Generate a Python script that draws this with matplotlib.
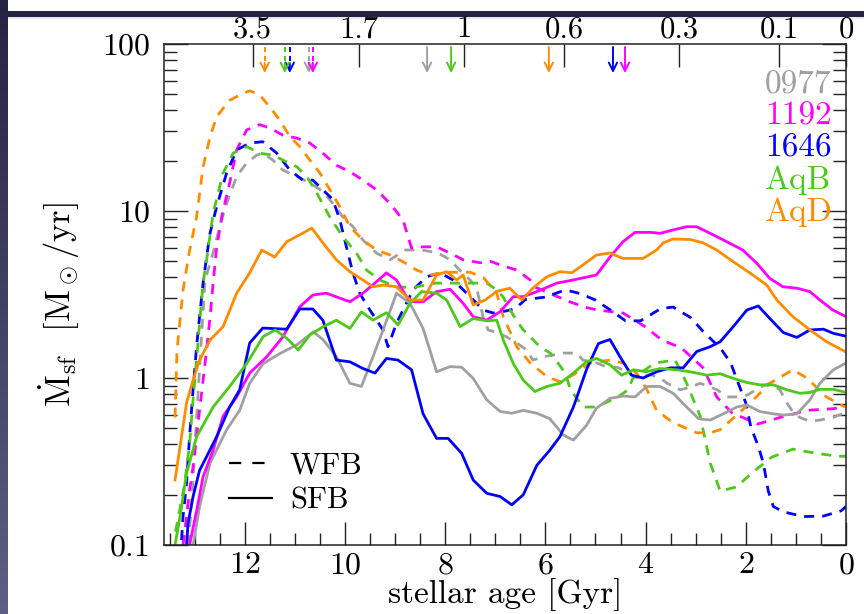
import matplotlib
matplotlib.use('Agg')
import matplotlib.pyplot as plt
import numpy as np
from matplotlib.lines import Line2D
from matplotlib.patches import Rectangle
from matplotlib.colors import LinearSegmentedColormap
from matplotlib.ticker import MultipleLocator, LogLocator, NullFormatter
import matplotlib.transforms as mtransforms

plt.rcParams['font.family'] = 'serif'
plt.rcParams['font.serif'] = ['cmr10', 'DejaVu Serif']
plt.rcParams['mathtext.fontset'] = 'cm'
plt.rcParams['axes.unicode_minus'] = False
plt.rcParams['axes.formatter.use_mathtext'] = True

# ── data (stellar age [Gyr], SFR [Msun/yr]) ──
names = ['0977', '1192', '1646', 'AqB', 'AqD']
colors = ['#a0a0a0', '#ff00ff', '#0000ff', '#4ec819', '#ff8c00']

# WFB (dashed)
age_0977_wfb = [13.12, 13.05, 12.98, 12.92, 12.86, 12.79, 12.63, 12.50, 12.36, 12.16, 11.96, 11.76, 11.64, 11.44,
                11.24, 10.96, 10.70, 10.44, 10.24, 10.04, 9.84, 9.64, 9.37, 9.10, 8.80, 8.57, 8.40, 8.14, 7.90,
                7.70, 7.50, 7.37, 7.24, 7.14, 6.97, 6.77, 6.57, 6.37, 6.25, 6.05, 5.85, 5.65, 5.37, 5.25, 4.97,
                4.77, 4.57, 4.45, 4.17, 3.91, 3.71, 3.57, 3.31, 3.11, 2.91, 2.57, 2.37, 2.11, 1.97, 1.72, 1.52,
                1.32, 1.18, 1.05, 0.92, 0.72, 0.52, 0.26, 0.02]
sfr_0977_wfb = [0.10, 0.20, 0.45, 0.9, 1.8, 3.86, 5.6, 8.05, 11.1, 16.1, 19.4, 21.6, 22.2, 20.2,
                17.6, 16.1, 14.7, 13.1, 11.1, 9.2, 8.05, 6.7, 5.6, 5.1, 5.84, 5.84, 5.8, 5.6, 5.1,
                4.4, 3.86, 3.45, 2.3, 1.94, 1.88, 1.76, 1.62, 1.47, 1.28, 1.34, 1.37, 1.41, 1.41, 1.28, 1.23,
                1.16, 1.16, 1.12, 1.0, 1.05, 1.0, 0.93, 0.85, 0.88, 0.93, 0.85, 0.77, 0.77, 0.79, 0.88, 0.93,
                0.85, 0.71, 0.62, 0.58, 0.55, 0.56, 0.58, 0.62]

age_1192_wfb = [13.23, 13.16, 13.10, 13.03, 12.96, 12.90, 12.83, 12.76, 12.69, 12.63, 12.56, 12.45, 12.30, 12.16,
                11.96, 11.70, 11.50, 11.24, 10.96, 10.70, 10.44, 10.17, 9.90, 9.64, 9.37, 9.10, 8.84, 8.67,
                8.44, 8.17, 7.90, 7.64, 7.30, 7.10, 6.90, 6.57, 6.30, 6.20, 5.90, 5.50, 5.20, 4.95, 4.45,
                4.01, 3.68, 3.28, 2.85, 2.58, 2.28, 1.76, 1.32, 0.78, 0.26, 0.02]
sfr_1192_wfb = [0.10, 0.148, 0.213, 0.294, 0.445, 0.643, 0.97, 1.47, 2.33, 3.7, 6.0, 9.5, 14.7, 23.2,
                30.6, 32.9, 31.4, 28.5, 27.3, 25.5, 22.2, 18.8, 17.2, 15.3, 13.4, 11.1, 8.83, 6.0,
                6.1, 6.1, 5.6, 5.1, 4.9, 5.0, 4.75, 4.43, 3.86, 3.5, 3.2, 2.85, 2.65, 2.55, 2.45,
                2.03, 1.69, 1.51, 1.15, 0.77, 0.62, 0.53, 0.58, 0.64, 0.655, 0.67]

age_1646_wfb = [13.26, 13.23, 13.16, 13.10, 13.03, 12.96, 12.90, 12.83, 12.76, 12.69, 12.56, 12.36, 12.16, 11.90,
                11.64, 11.36, 11.10, 10.84, 10.64, 10.44, 10.24, 10.10, 9.97, 9.84, 9.70, 9.50, 9.24, 9.14,
                8.97, 8.64, 8.37, 8.10, 7.84, 7.57, 7.24, 7.04, 6.84, 6.60, 6.40, 6.00, 5.60, 5.30, 5.00,
                4.70, 4.40, 4.10, 3.70, 3.45, 3.10, 2.85, 2.50, 2.30, 2.15, 2.00, 1.90, 1.75, 1.65, 1.55,
                1.45, 1.25, 0.85, 0.45, 0.10, 0.00]
sfr_1646_wfb = [0.107, 0.148, 0.235, 0.445, 0.85, 1.54, 2.33, 3.7, 5.3, 7.4, 10.6, 16.9, 23.2, 25.5,
                26.0, 22.2, 17.6, 15.3, 15.3, 13.4, 11.7, 8.83, 6.1, 4.26, 3.2, 2.55, 1.94, 1.54,
                2.13, 3.37, 4.04, 4.26, 3.86, 3.22, 2.55, 2.45, 2.5, 2.6, 2.95, 3.05, 3.37, 3.2, 2.93,
                2.55, 2.2, 2.2, 2.6, 2.66, 2.3, 1.9, 1.5, 1.23, 0.93, 0.71, 0.51, 0.39, 0.31, 0.21,
                0.17, 0.158, 0.148, 0.149, 0.16, 0.17]

age_aqb_wfb = [13.38, 13.30, 13.20, 13.10, 13.03, 12.96, 12.90, 12.83, 12.76, 12.63, 12.43, 12.23, 11.96, 11.70,
               11.44, 11.24, 10.96, 10.76, 10.56, 10.30, 10.04, 9.77, 9.57, 9.30, 8.97, 8.60, 8.20, 7.90,
               7.50, 7.17, 6.97, 6.84, 6.70, 6.57, 6.44, 6.30, 6.10, 5.90, 5.75, 5.60, 5.50, 5.35, 5.25,
               5.00, 4.80, 4.55, 4.35, 4.25, 3.81, 3.41, 3.18, 2.91, 2.71, 2.51, 2.18, 1.88, 1.48, 1.06,
               0.62, 0.16, 0.00]
sfr_aqb_wfb = [0.12, 0.16, 0.23, 0.4, 0.74, 1.28, 2.13, 3.7, 5.1, 9.7, 16.9, 22.2, 24.3, 22.2,
               21.6, 20.2, 18.4, 16.1, 12.8, 9.2, 7.0, 5.6, 4.43, 3.86, 3.5, 3.5, 3.7, 3.7,
               3.7, 3.7, 3.37, 3.05, 2.55, 2.2, 1.94, 1.76, 1.53, 1.41, 1.23, 1.07, 0.85, 0.74, 0.67,
               0.67, 0.71, 0.77, 0.85, 1.0, 1.23, 1.28, 0.93, 0.59, 0.31, 0.21, 0.223, 0.27, 0.336, 0.375,
               0.355, 0.34, 0.34]

age_aqd_wfb = [13.39, 13.35, 13.23, 13.10, 12.96, 12.83, 12.69, 12.56, 12.30, 12.10, 11.90, 11.70, 11.50, 11.30,
               11.10, 10.90, 10.70, 10.50, 10.30, 10.10, 9.90, 9.64, 9.37, 9.10, 8.84, 8.57, 8.30, 8.00,
               7.50, 7.24, 6.97, 6.84, 6.57, 6.30, 5.97, 5.71, 5.45, 5.11, 4.71, 4.45, 4.18, 3.97, 3.78,
               3.45, 2.98, 2.71, 2.51, 2.18, 1.85, 1.52, 1.06, 0.78, 0.39, 0.02]
sfr_aqd_wfb = [0.58, 1.47, 3.37, 5.8, 9.2, 18.4, 27.9, 36.7, 46.0, 49.5, 52.5, 49.5, 42.0, 35.0,
               27.9, 24.3, 20.2, 16.9, 13.4, 10.6, 8.05, 6.7, 5.84, 5.45, 4.97, 4.43, 4.14, 4.3,
               4.3, 4.0, 3.22, 2.33, 1.54, 1.23, 1.02, 0.95, 1.04, 1.23, 1.28, 1.23, 1.07, 0.85, 0.64,
               0.54, 0.47, 0.47, 0.49, 0.60, 0.74, 0.93, 1.12, 1.0, 0.77, 0.67]

# SFB (solid)
age_0977_sfb = [13.03, 12.90, 12.69, 12.36, 12.10, 11.90, 11.63, 11.30, 10.96, 10.63, 10.43, 10.17, 9.90, 9.67,
                9.44, 9.20, 8.97, 8.70, 8.44, 8.17, 7.90, 7.67, 7.44, 7.17, 6.90, 6.67, 6.44, 6.17, 5.91,
                5.64, 5.44, 5.18, 4.98, 4.71, 4.45, 4.21, 3.98, 3.71, 3.45, 3.18, 2.94, 2.71, 2.45, 2.18,
                1.98, 1.72, 1.45, 1.25, 0.98, 0.72, 0.52, 0.25, 0.00]
sfr_0977_sfb = [0.10, 0.17, 0.31, 0.49, 0.64, 0.93, 1.22, 1.40, 1.58, 1.89, 1.69, 1.34, 0.93, 0.89,
                1.34, 2.08, 3.22, 2.8, 1.98, 1.09, 1.17, 1.16, 0.995, 0.74, 0.63, 0.615, 0.64, 0.615, 0.57,
                0.455, 0.425, 0.52, 0.66, 0.755, 0.78, 0.77, 0.89, 0.89, 0.81, 0.67, 0.57, 0.56, 0.61, 0.67,
                0.69, 0.63, 0.61, 0.60, 0.61, 0.74, 0.93, 1.12, 1.23]

age_1192_sfb = [13.10, 12.96, 12.83, 12.63, 12.43, 12.16, 11.90, 11.56, 11.24, 10.90, 10.64, 10.37, 9.90, 9.64,
                9.37, 9.17, 8.97, 8.77, 8.64, 8.44, 8.17, 7.90, 7.64, 7.44, 7.17, 6.90, 6.64, 6.44, 6.17,
                5.77, 5.45, 4.98, 4.71, 4.45, 4.21, 3.91, 3.71, 3.45, 3.18, 2.98, 2.71, 2.38, 2.06, 1.78,
                1.52, 1.26, 0.98, 0.72, 0.52, 0.26, 0.00]
sfr_1192_sfb = [0.10, 0.16, 0.256, 0.37, 0.59, 0.77, 1.07, 1.34, 1.76, 2.67, 3.14, 3.22, 2.86, 3.22,
                3.77, 4.26, 3.86, 3.07, 2.86, 2.86, 3.29, 3.4, 2.8, 2.33, 2.22, 2.5, 3.07, 3.07, 3.29,
                3.7, 3.86, 4.14, 5.3, 6.55, 7.45, 7.45, 7.35, 7.7, 8.05, 8.05, 7.35, 6.55, 5.84, 4.86,
                3.95, 3.52, 3.45, 3.29, 2.93, 2.55, 2.33]

age_1646_sfb = [13.16, 13.13, 13.03, 12.90, 12.76, 12.56, 12.30, 12.10, 11.90, 11.64, 11.16, 10.90, 10.64, 10.44,
                10.17, 9.90, 9.64, 9.40, 9.17, 8.94, 8.67, 8.44, 8.17, 7.94, 7.67, 7.44, 7.17, 6.90, 6.67,
                6.44, 6.17, 5.91, 5.71, 5.44, 5.18, 4.94, 4.71, 4.51, 4.28, 4.05, 3.78, 3.51, 3.25, 2.98,
                2.71, 2.51, 2.25, 1.98, 1.75, 1.52, 1.25, 0.98, 0.72, 0.45, 0.25, 0.00]
sfr_1646_sfb = [0.10, 0.135, 0.195, 0.28, 0.338, 0.445, 0.67, 0.85, 1.62, 1.99, 1.96, 2.59, 2.59, 2.22,
                1.28, 1.25, 1.14, 1.07, 1.31, 1.28, 1.12, 0.61, 0.435, 0.435, 0.354, 0.245, 0.204, 0.195, 0.174,
                0.20, 0.30, 0.37, 0.445, 0.67, 1.12, 1.61, 1.70, 1.34, 1.04, 1.0, 1.09, 1.15, 1.15, 1.44,
                1.54, 1.65, 2.03, 2.55, 2.7, 2.27, 1.87, 1.75, 1.94, 1.96, 1.85, 1.78]

age_aqb_sfb = [13.39, 13.29, 13.16, 12.96, 12.63, 12.30, 11.96, 11.63, 11.39, 11.16, 10.93, 10.70, 10.43, 10.17,
               9.90, 9.67, 9.44, 9.17, 8.94, 8.70, 8.47, 8.17, 7.97, 7.70, 7.44, 7.17, 6.97, 6.84, 6.64,
               6.44, 6.21, 5.97, 5.71, 5.44, 5.18, 4.98, 4.71, 4.48, 4.24, 3.98, 3.71, 3.38, 3.11, 2.78,
               2.51, 2.25, 1.98, 1.72, 1.45, 1.18, 0.92, 0.72, 0.52, 0.25, 0.00]
sfr_aqb_sfb = [0.10, 0.148, 0.268, 0.445, 0.67, 0.89, 1.22, 1.77, 1.94, 1.73, 1.47, 1.81, 2.03, 2.22,
               1.98, 2.49, 2.22, 2.46, 2.08, 2.8, 3.29, 3.22, 2.93, 2.03, 2.27, 2.2, 2.22, 1.69, 1.22,
               0.97, 0.83, 0.89, 0.93, 1.07, 1.25, 1.31, 1.2, 1.04, 1.12, 1.09, 1.14, 1.12, 1.09, 1.04,
               1.06, 0.995, 0.94, 0.91, 0.91, 0.85, 0.81, 0.82, 0.855, 0.855, 0.82]

age_aqd_sfb = [13.39, 13.26, 13.16, 13.03, 12.90, 12.69, 12.43, 12.16, 11.90, 11.66, 11.40, 11.16, 10.90, 10.66,
               10.44, 10.17, 9.90, 9.64, 9.44, 9.24, 8.97, 8.70, 8.44, 8.17, 7.97, 7.77, 7.64, 7.44, 7.20,
               6.97, 6.71, 6.47, 6.25, 5.97, 5.71, 5.47, 5.25, 4.98, 4.71, 4.45, 4.05, 3.78, 3.65, 3.45,
               3.11, 2.85, 2.58, 2.25, 1.92, 1.58, 1.38, 1.06, 0.72, 0.39, 0.02]
sfr_aqd_sfb = [0.245, 0.445, 0.71, 0.97, 1.28, 1.69, 2.03, 3.22, 4.26, 5.84, 5.3, 6.55, 7.2, 7.9,
               6.44, 5.1, 4.33, 3.86, 3.52, 3.6, 3.52, 2.93, 2.93, 4.14, 4.33, 3.86, 4.14, 2.74, 2.93,
               3.3, 3.45, 2.93, 3.45, 4.04, 4.33, 4.27, 4.75, 5.45, 5.6, 5.2, 5.2, 5.84, 6.44, 6.8,
               6.75, 6.44, 5.84, 4.97, 4.26, 3.6, 2.93, 2.33, 1.94, 1.65, 1.44]

wfb_ages = [age_0977_wfb, age_1192_wfb, age_1646_wfb, age_aqb_wfb, age_aqd_wfb]
wfb_sfrs = [sfr_0977_wfb, sfr_1192_wfb, sfr_1646_wfb, sfr_aqb_wfb, sfr_aqd_wfb]
sfb_ages = [age_0977_sfb, age_1192_sfb, age_1646_sfb, age_aqb_sfb, age_aqd_sfb]
sfb_sfrs = [sfr_0977_sfb, sfr_1192_sfb, sfr_1646_sfb, sfr_aqb_sfb, sfr_aqd_sfb]

# arrows at the top (age of each run, same order as names)
wfb_arrow_age = [10.72, 10.64, 11.10, 11.20, 11.60]
sfb_arrow_age = [8.36, 4.41, 4.65, 7.88, 5.93]

# redshift axis on top
z_labels = ['3.5', '1.7', '1', '0.6', '0.3', '0.1', '0']
z_ages = [11.84, 9.72, 7.62, 5.63, 3.33, 1.34, 0.0]

W, H = 864, 614
fig = plt.figure(figsize=(W / 100, H / 100), dpi=100)
fig.patch.set_facecolor('white')

# slide decoration: dark strip left and band on top
strip = fig.add_axes([0, 0, 8 / W, 1])
strip.imshow(np.linspace(0, 1, 256)[:, None], aspect='auto', origin='upper',
             cmap=LinearSegmentedColormap.from_list('strip', ['#262342', '#5c6084']))
strip.axis('off')
fig.add_artist(Rectangle((8 / W, 1 - 17 / H), 1, 6 / H, transform=fig.transFigure,
                         facecolor='#262342', edgecolor='none', zorder=0))
fig.add_artist(Rectangle((8 / W, 1 - 19 / H), 1, 2 / H, transform=fig.transFigure,
                         facecolor='#e8e8ef', edgecolor='none', zorder=0))

ax = fig.add_axes([164 / W, 69 / H, 682 / W, 501 / H])

DASH = (0, (3.6, 2.9))
for a, s, c in zip(wfb_ages, wfb_sfrs, colors):
    ax.plot(a, s, color=c, lw=2.0, ls=DASH)
for a, s, c in zip(sfb_ages, sfb_sfrs, colors):
    ax.plot(a, s, color=c, lw=2.0)

ax.set_yscale('log')
ax.set_xlim(13.61, 0)
ax.set_ylim(0.1, 100)

ax.xaxis.set_major_locator(MultipleLocator(2))
ax.xaxis.set_minor_locator(MultipleLocator(0.5))
ax.set_yticks([0.1, 1, 10, 100], labels=['0.1', '1', '10', '100'])
ax.yaxis.set_minor_locator(LogLocator(subs=np.arange(2, 10)))
ax.yaxis.set_minor_formatter(NullFormatter())

ax.tick_params(which='both', direction='in', top=False, right=True, width=1.0, colors='#222222',
               labelcolor='black', labelsize=23)
ax.tick_params(axis='x', which='major', length=16.5, pad=5)
ax.tick_params(axis='x', which='minor', length=8.6)
ax.tick_params(axis='y', which='major', length=17, pad=10)
ax.tick_params(axis='y', which='minor', length=9.4)
for sp in ax.spines.values():
    sp.set_linewidth(1.1)
    sp.set_color('#222222')

ax.set_xlabel('stellar age [Gyr]', fontsize=24)
ax.xaxis.set_label_coords(0.5, -0.066)
ax.set_ylabel(r'$\dot{\rm M}_{\rm sf}$  [M$_\odot$/yr]', fontsize=25)
ax.yaxis.set_label_coords(-0.12, 0.48)

# top axis with redshift
ax2 = ax.twiny()
ax2.set_xlim(ax.get_xlim())
ax2.set_xticks(z_ages, labels=z_labels)
ax2.xaxis.set_minor_locator(plt.NullLocator())
ax2.tick_params(axis='x', direction='in', length=16.5, width=1.0, pad=0.5, labelsize=22, colors='#222222',
                labelcolor='black')
for sp in ax2.spines.values():
    sp.set_visible(False)

# arrows marking each run
trans = mtransforms.blended_transform_factory(ax.transData, ax.transAxes)
for ages, style in ((wfb_arrow_age, 'dash'), (sfb_arrow_age, 'solid')):
    for a, c in zip(ages, colors):
        if style == 'dash':
            ax.plot([a, a], [0.994, 0.958], transform=trans, color=c, lw=1.4,
                    ls=(0, (2.6, 2.0)), solid_capstyle='butt', clip_on=False)
            ax.annotate('', xy=(a, 0.942), xytext=(a, 0.962), xycoords=trans, textcoords=trans,
                        arrowprops=dict(arrowstyle='->', color=c, lw=1.4, shrinkA=0, shrinkB=0,
                                        mutation_scale=15))
        else:
            ax.annotate('', xy=(a, 0.942), xytext=(a, 0.994), xycoords=trans, textcoords=trans,
                        arrowprops=dict(arrowstyle='->', color=c, lw=1.4, shrinkA=0, shrinkB=0,
                                        mutation_scale=15))

# run names in colour
for i, (n, c) in enumerate(zip(names, colors)):
    ax.text(0.881, 0.920 - i * 0.064, n, color=c, fontsize=24, transform=ax.transAxes,
            ha='left', va='center')

# WFB / SFB key
handles = [Line2D([], [], color='k', lw=1.6, ls=(0, (5.5, 5.0))),
           Line2D([], [], color='k', lw=1.6)]
ax.legend(handles, ['WFB', 'SFB'], loc='lower left', bbox_to_anchor=(0.095, 0.06), frameon=False,
          fontsize=22, handlelength=1.4, handletextpad=0.6, labelspacing=0.25, borderaxespad=0,
          borderpad=0)

fig.savefig('out.png', dpi=100, facecolor='white')
